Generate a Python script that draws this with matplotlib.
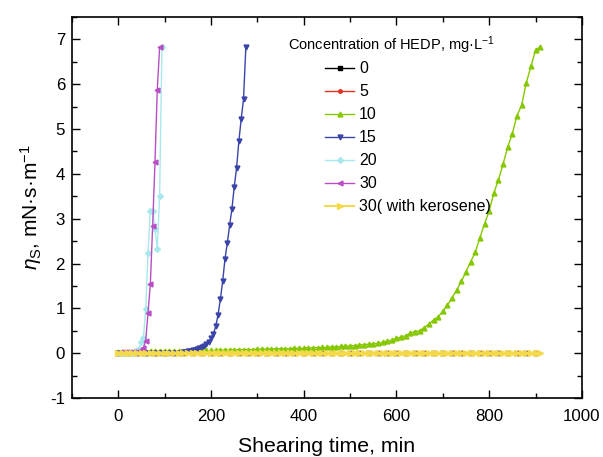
import matplotlib
matplotlib.use('Agg')
import matplotlib.pyplot as plt
from matplotlib.ticker import MultipleLocator

plt.rcParams['font.family'] = ['Liberation Sans', 'DejaVu Sans']
plt.rcParams['mathtext.fontset'] = 'custom'
plt.rcParams['mathtext.rm'] = 'Liberation Sans'
plt.rcParams['mathtext.it'] = 'Liberation Sans:italic'
plt.rcParams['axes.unicode_minus'] = False

# Daten
labels = ['0', '5', '10', '15', '20', '30', '30( with kerosene)']

t_flat = [0, 20, 40, 60, 80, 100, 120, 140, 160, 180, 200, 220, 240, 260, 280, 300,
          320, 340, 360, 380, 400, 420, 440, 460, 480, 500, 520, 540, 560, 580, 600,
          620, 640, 660, 680, 700, 720, 740, 760, 780, 800, 820, 840, 860, 880, 900]
eta_0 = [0.00, 0.00, 0.00, 0.00, 0.00, 0.00, 0.00, 0.00, 0.00, 0.00, 0.00, 0.00,
         0.00, 0.00, 0.00, 0.00, 0.00, 0.00, 0.00, 0.00, 0.00, 0.00, 0.00, 0.00,
         0.00, 0.00, 0.00, 0.00, 0.00, 0.00, 0.00, 0.00, 0.00, 0.00, 0.00, 0.00,
         0.00, 0.00, 0.00, 0.00, 0.00, 0.00, 0.00, 0.00, 0.00, 0.00]
eta_5 = [0.01, 0.01, 0.01, 0.01, 0.01, 0.01, 0.01, 0.01, 0.01, 0.01, 0.01, 0.01,
         0.01, 0.01, 0.01, 0.01, 0.01, 0.01, 0.01, 0.01, 0.01, 0.01, 0.01, 0.01,
         0.01, 0.01, 0.01, 0.01, 0.01, 0.01, 0.01, 0.01, 0.01, 0.01, 0.01, 0.01,
         0.01, 0.01, 0.01, 0.01, 0.01, 0.01, 0.01, 0.01, 0.01, 0.01]

t_10 = [0, 10, 20, 30, 40, 50, 60, 70, 80, 90, 100, 110, 120, 130, 140, 150, 160,
        170, 180, 190, 200, 210, 220, 230, 240, 250, 260, 270, 280, 290, 300, 310,
        320, 330, 340, 350, 360, 370, 380, 390, 400, 410, 420, 430, 440, 450, 460,
        470, 480, 490, 500, 510, 520, 530, 540, 550, 560, 570, 580, 590, 600, 610,
        620, 630, 640, 650, 660, 670, 680, 690, 700, 710, 720, 730, 740, 750, 760,
        770, 780, 790, 800, 810, 820, 830, 840, 850, 860, 870, 880, 890, 900, 910]
eta_10 = [0.02, 0.02, 0.02, 0.03, 0.03, 0.03, 0.03, 0.04, 0.04, 0.04, 0.04, 0.04,
          0.05, 0.05, 0.05, 0.05, 0.05, 0.06, 0.06, 0.06, 0.06, 0.06, 0.07, 0.07,
          0.07, 0.07, 0.08, 0.08, 0.08, 0.08, 0.09, 0.09, 0.09, 0.09, 0.10, 0.10,
          0.10, 0.10, 0.11, 0.11, 0.11, 0.12, 0.12, 0.12, 0.13, 0.13, 0.14, 0.14,
          0.15, 0.16, 0.16, 0.17, 0.18, 0.19, 0.20, 0.21, 0.22, 0.24, 0.27, 0.29,
          0.33, 0.36, 0.39, 0.45, 0.48, 0.50, 0.57, 0.65, 0.74, 0.81, 0.94, 1.07,
          1.24, 1.41, 1.60, 1.82, 2.04, 2.25, 2.58, 2.88, 3.18, 3.57, 3.87, 4.22,
          4.60, 4.90, 5.30, 5.53, 6.03, 6.40, 6.76, 6.83]

t_15 = [0, 5, 10, 15, 20, 25, 30, 35, 40, 45, 50, 55, 60, 65, 70, 75, 80, 85, 90,
        95, 100, 105, 110, 115, 120, 125, 130, 135, 140, 145, 150, 155, 160, 165,
        170, 175, 180, 185, 190, 195, 200, 205, 210, 215, 220, 225, 230, 235, 240,
        245, 250, 255, 260, 265, 270, 275]
eta_15 = [0.00, 0.00, 0.00, 0.00, 0.00, 0.00, 0.00, 0.00, 0.00, 0.00, 0.00, 0.00,
          0.00, 0.00, 0.00, 0.00, 0.00, 0.00, 0.00, 0.00, 0.00, 0.00, 0.00, 0.00,
          0.00, 0.00, 0.00, 0.01, 0.02, 0.03, 0.04, 0.05, 0.06, 0.07, 0.09, 0.11,
          0.14, 0.17, 0.20, 0.25, 0.33, 0.43, 0.60, 0.85, 1.20, 1.60, 2.10, 2.45,
          2.85, 3.22, 3.71, 4.13, 4.73, 5.23, 5.66, 6.82]

t_20 = [4, 9, 14, 19, 24, 29, 34, 39, 44, 49, 54, 59, 64, 69, 74, 79, 84, 89, 94]
eta_20 = [0.01, 0.01, 0.01, 0.01, 0.01, 0.01, 0.02, 0.04, 0.10, 0.24, 0.34, 0.98,
          2.23, 3.18, 3.18, 2.77, 2.32, 3.51, 6.82]

t_30 = [4, 9, 14, 19, 24, 29, 34, 39, 44, 49, 54, 59, 64, 69, 74, 79, 84, 89]
eta_30 = [0.02, 0.02, 0.02, 0.02, 0.02, 0.02, 0.02, 0.02, 0.03, 0.06, 0.12, 0.28,
          0.90, 1.54, 2.84, 4.26, 5.88, 6.82]

eta_30k = [0.01, 0.01, 0.01, 0.01, 0.01, 0.01, 0.01, 0.01, 0.01, 0.01, 0.01, 0.01,
           0.01, 0.01, 0.01, 0.01, 0.01, 0.01, 0.01, 0.01, 0.01, 0.01, 0.01, 0.01,
           0.01, 0.01, 0.01, 0.01, 0.01, 0.01, 0.01, 0.01, 0.01, 0.01, 0.01, 0.01,
           0.01, 0.01, 0.01, 0.01, 0.01, 0.01, 0.01, 0.01, 0.01, 0.01, 0.01, 0.01,
           0.01, 0.01, 0.01, 0.01, 0.01, 0.01, 0.01, 0.01, 0.01, 0.01, 0.01, 0.01,
           0.01, 0.01, 0.01, 0.01, 0.01, 0.01, 0.01, 0.01, 0.01, 0.01, 0.01, 0.01,
           0.01, 0.01, 0.01, 0.01, 0.01, 0.01, 0.01, 0.01, 0.01, 0.01, 0.01, 0.01,
           0.01, 0.01, 0.01, 0.01, 0.01, 0.01, 0.01, 0.01]

fig = plt.figure(figsize=(6.03, 4.57), dpi=100)
ax = fig.add_axes([0.1194, 0.1291, 0.8456, 0.8337])

# Kurven
ax.plot(t_flat, eta_0, color='black', marker='s', ms=2.5, lw=1, label=labels[0])
ax.plot(t_flat, eta_5, color='#e0301e', marker='o', ms=2.5, lw=1, label=labels[1])
ax.plot(t_10, eta_10, color='#86c800', marker='^', ms=3.5, lw=1, label=labels[2])
ax.plot(t_15, eta_15, color='#3a44a8', marker='v', ms=3.5, lw=1, label=labels[3])
ax.plot(t_20, eta_20, color='#a8e8ec', marker='D', ms=3, lw=1, label=labels[4])
ax.plot(t_30, eta_30, color='#b84ec4', marker='<', ms=3.5, lw=1, label=labels[5])
ax.plot(t_10, eta_30k, color='#f2da4a', marker='>', ms=4.5, lw=1.5, label=labels[6])

# Achsen
ax.set_xlim(-100, 1000)
ax.set_ylim(-1, 7.5)
ax.xaxis.set_major_locator(MultipleLocator(200))
ax.xaxis.set_minor_locator(MultipleLocator(100))
ax.yaxis.set_major_locator(MultipleLocator(1))
ax.yaxis.set_minor_locator(MultipleLocator(0.5))
ax.tick_params(which='major', direction='in', length=6, width=1, labelsize=12.2)
ax.tick_params(axis='x', which='major', pad=8)
ax.tick_params(axis='y', which='major', pad=5)
ax.tick_params(which='minor', direction='in', length=3.5, width=1)
ax.tick_params(which='both', top=True, right=True)
for s in ax.spines.values():
    s.set_linewidth(1.2)

ax.set_xlabel('Shearing time, min', fontsize=15.3, labelpad=9)
ax.set_ylabel(r'$\eta_\mathrm{S}$, mN·s·m$^{-1}$', fontsize=15)

# Legende
ax.text(0.423, 0.926, r'Concentration of HEDP, mg·L$^{-1}$', transform=ax.transAxes,
        fontsize=10.5, va='center', ha='left')
ax.legend(loc='upper left', bbox_to_anchor=(0.497, 0.884), frameon=False,
          borderpad=0, borderaxespad=0, fontsize=11.5, handlelength=1.8,
          handletextpad=0.3, labelspacing=0.5)

plt.savefig('out.png', dpi=100)
